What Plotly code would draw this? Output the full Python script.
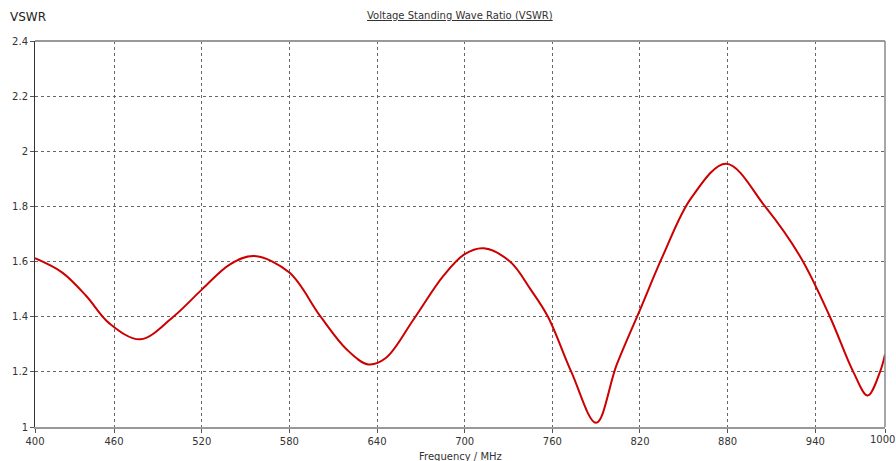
import plotly.graph_objects as go

# VSWR sweep (frequency in MHz)
freq_mhz = [405.9, 424.6, 441, 457, 478, 500.6, 520.4, 539.4, 556, 580, 601, 619.3, 634,
            646, 665, 685.4, 700, 713, 731, 745, 757, 773, 790, 804, 820, 836, 855, 879,
            905.6, 930, 950, 966, 975.8, 984.3, 987.7]
vswr = [1.612, 1.56, 1.475, 1.375, 1.318, 1.40, 1.50, 1.59, 1.62, 1.56, 1.403, 1.281, 1.227,
        1.25, 1.39, 1.548, 1.627, 1.648, 1.60, 1.50, 1.40, 1.20, 1.015, 1.225, 1.425,
        1.625, 1.83, 1.955, 1.80, 1.615, 1.40, 1.20, 1.114, 1.20, 1.263]

# Axis ticks; the outer labels sit on the plot edges
x_tick_vals = [405.9, 460, 520, 580, 640, 700, 760, 820, 880, 940, 987.7]
x_tick_text = ["400", "460", "520", "580", "640", "700", "760", "820", "880", "940", ""]
x_end_label = "1000"
y_tick_vals = [1, 1.2, 1.4, 1.6, 1.8, 2, 2.2, 2.4]
y_tick_text = ["1", "1.2", "1.4", "1.6", "1.8", "2", "2.2", "2.4"]

FONT = "DejaVu Sans, Verdana, sans-serif"

fig = go.Figure()
fig.add_trace(go.Scatter(
    x=freq_mhz, y=vswr, mode="lines",
    line=dict(color="#cc0000", width=2, shape="spline", smoothing=1.0),
    hoverinfo="x+y", showlegend=False,
))

grid = dict(showgrid=True, gridcolor="#666666", griddash="dot", gridwidth=1,
            zeroline=False, ticks="outside", ticklen=4, tickcolor="#555555",
            ticklabeloverflow="allow", automargin=False,
            tickfont=dict(family=FONT, size=10, color="#333333"))

fig.update_layout(
    width=896, height=461,
    margin=dict(l=35, r=11, t=41, b=34),
    paper_bgcolor="white", plot_bgcolor="white",
    font=dict(family=FONT, color="#333333"),
    xaxis=dict(range=[405.9, 987.7], tickvals=x_tick_vals, ticktext=x_tick_text,
               showline=True, linecolor="#999999", linewidth=2, **grid),
    yaxis=dict(range=[1, 2.4], tickvals=y_tick_vals, ticktext=y_tick_text,
               showline=True, linecolor="#333333", linewidth=1, **grid),
    shapes=[
        # top and right frame edges
        dict(type="line", xref="paper", yref="paper", x0=0, x1=1, y0=1, y1=1,
             line=dict(color="#999999", width=2)),
        dict(type="line", xref="paper", yref="paper", x0=1, x1=1, y0=0, y1=1,
             line=dict(color="#888888", width=1.5)),
    ],
    annotations=[
        dict(text="<u>Voltage Standing Wave Ratio (VSWR)</u>", xref="paper", yref="paper",
             x=0.5, y=1, yshift=26, showarrow=False, xanchor="center", yanchor="middle",
             font=dict(family=FONT, size=10, color="#333333")),
        dict(text="VSWR", xref="paper", yref="paper", x=0, y=1, xshift=-27, yshift=24,
             showarrow=False, xanchor="left", yanchor="middle",
             font=dict(family=FONT, size=12, color="#222222")),
        dict(text="Frequency / MHz", xref="paper", yref="paper", x=0.5, y=0, yshift=-29,
             showarrow=False, xanchor="center", yanchor="middle",
             font=dict(family=FONT, size=10, color="#333333")),
        # right-most frequency label, kept inside the page edge
        dict(text=x_end_label, xref="paper", yref="paper", x=1, y=0, xshift=11, yshift=-6,
             showarrow=False, xanchor="right", yanchor="top", borderpad=0,
             font=dict(family=FONT, size=10, color="#333333")),
    ],
)

fig.write_html("out.html")
